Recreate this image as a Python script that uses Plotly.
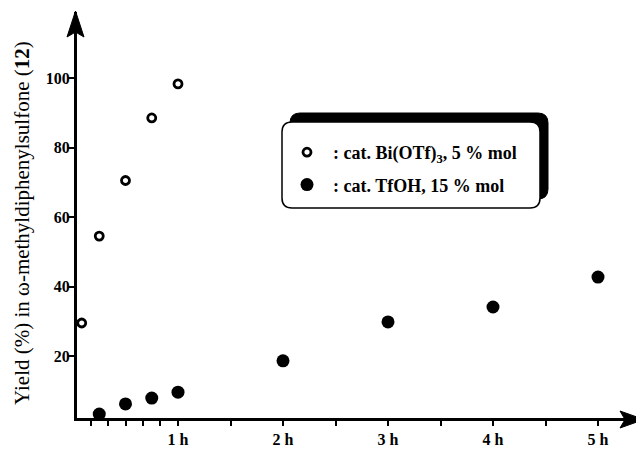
import plotly.graph_objects as go

# ---- data ----
bi_time = [0.083, 0.25, 0.5, 0.75, 1.0]
bi_yield = [29.5, 54.5, 70.5, 88.5, 98.3]
tfoh_time = [0.25, 0.5, 0.75, 1.0, 2.0, 3.0, 4.0, 5.0]
tfoh_yield = [3.3, 6.2, 7.9, 9.6, 18.6, 29.8, 34.1, 42.7]

x_tick_vals = [0.167, 0.333, 0.5, 0.667, 0.833, 1, 1.5, 2, 2.5, 3, 3.5, 4, 4.5, 5]
x_tick_text = ["", "", "", "", "", "1 h", "", "2 h", "", "3 h", "", "4 h", "", "5 h"]
y_tick_vals = [20, 40, 60, 80, 100]
y_tick_text = ["20", "40", "60", "80", "100"]

series_names = [": cat. Bi(OTf)<sub>3</sub>, 5 % mol", ": cat. TfOH, 15 % mol"]
y_title = "Yield (%) in \u03c9-methyldiphenylsulfone (<b>12</b>)"

# ---- layout geometry (page pixel coordinates; page has 8px body margin) ----
OFF = 8
PAGE_W, PAGE_H = 644, 449
W, H = PAGE_W - OFF, PAGE_H - OFF
P_LEFT, P_RIGHT, P_TOP, P_BOTTOM = 77, 644, 12, 418
ML = P_LEFT - OFF
MR = PAGE_W - P_RIGHT
MT = P_TOP - OFF
MB = PAGE_H - P_BOTTOM
PW = P_RIGHT - P_LEFT
PH = P_BOTTOM - P_TOP
FONT = "Liberation Serif"


def px(x):
    return (x - P_LEFT) / PW


def py(y):
    return (P_BOTTOM - y) / PH


def rrect(x0, y0, x1, y1, r):
    return (
        f"M {px(x0 + r)},{py(y0)} L {px(x1 - r)},{py(y0)} "
        f"Q {px(x1)},{py(y0)} {px(x1)},{py(y0 + r)} "
        f"L {px(x1)},{py(y1 - r)} Q {px(x1)},{py(y1)} {px(x1 - r)},{py(y1)} "
        f"L {px(x0 + r)},{py(y1)} Q {px(x0)},{py(y1)} {px(x0)},{py(y1 - r)} "
        f"L {px(x0)},{py(y0 + r)} Q {px(x0)},{py(y0)} {px(x0 + r)},{py(y0)} Z"
    )


def poly(points):
    return "M " + " L ".join(f"{px(a)},{py(b)}" for a, b in points) + " Z"


fig = go.Figure()
fig.add_trace(go.Scatter(
    x=bi_time, y=bi_yield, mode="markers", name=series_names[0],
    legendgroup="a",
    marker=dict(symbol="circle-open", size=8, color="black", line=dict(width=2.8, color="black")),
))
fig.add_trace(go.Scatter(
    x=tfoh_time, y=tfoh_yield, mode="markers", name=series_names[1],
    legendgroup="b",
    marker=dict(symbol="circle", size=13, color="black", line=dict(width=0)),
))

shapes = [
    dict(type="path", xref="paper", yref="paper", path=rrect(290, 113, 548, 199, 10),
         fillcolor="black", line=dict(color="black", width=1)),
    dict(type="path", xref="paper", yref="paper", path=rrect(282, 122, 540, 208, 10),
         fillcolor="white", line=dict(color="black", width=1.5)),
    dict(type="path", xref="paper", yref="paper",
         path=poly([(75.5, 11), (67, 37), (75.5, 32), (84, 37)]),
         fillcolor="black", line=dict(color="black", width=1)),
    dict(type="path", xref="paper", yref="paper",
         path=poly([(644, 419.5), (620, 411), (625, 419.5), (620, 428)]),
         fillcolor="black", line=dict(color="black", width=1)),
]

fig.update_layout(
    width=W, height=H,
    margin=dict(l=ML, r=MR, t=MT, b=MB, pad=0),
    paper_bgcolor="white", plot_bgcolor="white",
    font=dict(family=FONT, color="black"),
    showlegend=True,
    legend=dict(
        x=px(281), y=py(134), xanchor="left", yanchor="top",
        bgcolor="rgba(0,0,0,0)", borderwidth=0,
        font=dict(family=FONT, size=18, weight="bold", color="black"),
        traceorder="grouped", tracegroupgap=6, itemwidth=42,
    ),
    xaxis=dict(
        range=[(P_LEFT - 73) / 105, (P_RIGHT - 73) / 105],
        showgrid=False, zeroline=False,
        showline=True, linecolor="black", linewidth=3,
        tickmode="array", tickvals=x_tick_vals, ticktext=x_tick_text,
        ticks="outside", ticklen=5, tickwidth=2, tickcolor="black",
        tickfont=dict(family=FONT, size=16, weight="bold", color="black"),
    ),
    yaxis=dict(
        range=[(425.5 - P_BOTTOM) / 3.475, (425.5 - P_TOP) / 3.475],
        showgrid=False, zeroline=False,
        showline=True, linecolor="black", linewidth=3,
        tickmode="array", tickvals=y_tick_vals, ticktext=y_tick_text,
        ticks="outside", ticklen=6, tickwidth=2, tickcolor="black",
        ticklabelstandoff=-5,
        tickfont=dict(family=FONT, size=16, weight="bold", color="black"),
    ),
    shapes=shapes,
    annotations=[dict(
        text=y_title, xref="paper", yref="paper", x=px(22), y=py(223),
        xanchor="center", yanchor="middle", textangle=-90, showarrow=False,
        font=dict(family=FONT, size=21, color="black"),
    )],
)

fig.write_html("out.html")
